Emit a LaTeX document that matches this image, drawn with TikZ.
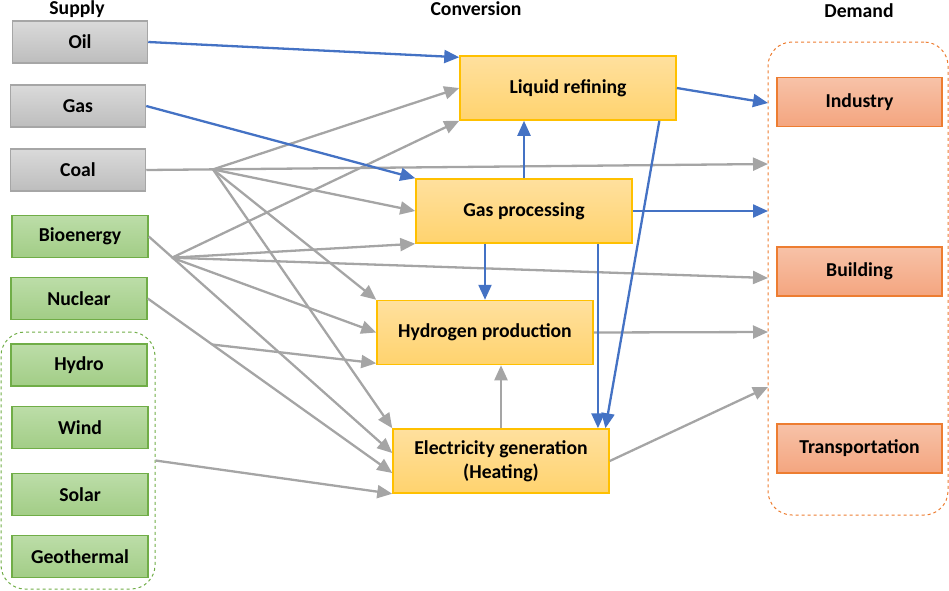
\documentclass[tikz,border=0pt]{standalone}
\usepackage{fontspec}
\setmainfont{Carlito}
\usetikzlibrary{arrows.meta,calc}
\definecolor{fostop}{HTML}{DADADA}
\definecolor{fosbot}{HTML}{BDBDBD}
\definecolor{fosline}{HTML}{A6A6A6}
\definecolor{rentop}{HTML}{BCDDA8}
\definecolor{renbot}{HTML}{A2CD86}
\definecolor{renline}{HTML}{70AD47}
\definecolor{convtop}{HTML}{FFE09E}
\definecolor{convbot}{HTML}{FFD36E}
\definecolor{convline}{HTML}{FFC000}
\definecolor{demtop}{HTML}{F7C2A8}
\definecolor{dembot}{HTML}{F4A57F}
\definecolor{demline}{HTML}{ED7D31}
\definecolor{flowgray}{HTML}{A5A5A5}
\definecolor{flowblue}{HTML}{4472C4}
\begin{document}
\begin{tikzpicture}[x=1pt, y=-1pt,
 >={Triangle[length=15pt,width=13pt]},
 every node/.style={font=\fontsize{19.7}{23.5}\selectfont\bfseries},
 box/.style={draw, line width=1.5pt, inner sep=0pt, align=center},
 fossil/.style={box, minimum width=135pt, minimum height=42pt, draw=fosline, top color=fostop, bottom color=fosbot},
 renew/.style={box, minimum width=136pt, minimum height=42pt, draw=renline, top color=rentop, bottom color=renbot},
 conv/.style={box, minimum width=216pt, minimum height=64pt, draw=convline, top color=convtop, bottom color=convbot},
 dem/.style={box, minimum width=165pt, minimum height=49pt, draw=demline, top color=demtop, bottom color=dembot},
 grp/.style={draw, dashed, line width=1pt, rounded corners=24pt, inner sep=0pt},
 flow/.style={->, line width=2.3pt, color=flowgray},
 fuel/.style={->, line width=2.3pt, color=flowblue}]
 \useasboundingbox (0,0) rectangle (949,590);
 \node[anchor=base] (suplbl) at (77,14) {Supply};
 \node[anchor=base] (convlbl) at (476,15) {Conversion};
 \node[anchor=base] (demlbl) at (859,17) {Demand};
 \node[fossil] (oil) at (80,42) {Oil};
 \node[fossil] (gas) at (78,106) {Gas};
 \node[fossil] (coal) at (78,170) {Coal};
 \node[renew] (bio) at (80,236.5) {Bioenergy};
 \node[renew] (nuc) at (79,298.5) {Nuclear};
 \node[renew] (hydro) at (79,365) {Hydro};
 \node[renew] (wind) at (80,427.5) {Wind};
 \node[renew] (solar) at (80,494.5) {Solar};
 \node[renew] (geo) at (80,556.5) {Geothermal};
 \node[grp, draw=renline, minimum width=154pt, minimum height=257pt] (rengrp) at (78,460.5) {};
 \node[conv] (lr) at (568,88) {Liquid refining};
 \node[conv] (gp) at (524,211) {Gas processing};
 \node[conv] (hp) at (485,332.5) {Hydrogen production};
 \node[conv] (el) at (501,461) {Electricity generation\\(Heating)};
 \node[grp, draw=demline, minimum width=180pt, minimum height=473pt] (demgrp) at (858,278.5) {};
 \node[dem] (ind) at (859.5,102) {Industry};
 \node[dem] (bld) at (859.5,271.5) {Building};
 \node[dem] (trans) at (859.5,448.5) {Transportation};
 \coordinate (coalhub) at (213,169.4);
 \coordinate (biohub) at (172,257.7);
 \coordinate (nuchub) at (212,344.5);
 \coordinate (dlr) at (768,103);
 \coordinate (dcoal) at (768,164);
 \coordinate (dgp) at (768,211);
 \coordinate (dbio) at (768,278);
 \coordinate (dhp) at (768,332);
 \coordinate (del) at (768,387);
 \draw[flow] (coal.east) -- (dcoal);
 \draw[flow] (bio.east) -- ([yshift=8pt]el.west);
 \draw[flow] (nuc.east) -- ([yshift=-12pt]el.west);
 \draw[flow] (rengrp.east) -- (el.south west);
 \foreach \t in {lr.west, gp.west, hp.north west, el.north west}
  \draw[flow] (coalhub) -- (\t);
 \foreach \t in {lr.south west, gp.south west, dbio, hp.west}
  \draw[flow] (biohub) -- (\t);
 \draw[flow] (nuchub) -- ([yshift=2pt]hp.south west);
 \draw[flow] (el.north) -- (el.north |- hp.south);
 \draw[flow] (hp.east) -- (dhp);
 \draw[flow] (el.east) -- (del);
 \draw[fuel] (oil.east) -- ([yshift=-2pt]lr.north west);
 \draw[fuel] (gas.east) -- (gp.north west);
 \draw[fuel] (gp.north) -- (gp.north |- lr.south);
 \draw[fuel] (lr.east) -- (dlr);
 \draw[fuel] (gp.east) -- (dgp);
 \draw[fuel] (hp.north |- gp.south) -- (hp.north);
 \coordinate (gpout) at ($(gp.south west)!0.84!(gp.south east)$);
 \draw[fuel] (gpout) -- (gpout |- el.north);
 \draw[fuel] ($(lr.south west)!0.92!(lr.south east)$) -- ($(el.north west)!0.98!(el.north east)$);
\end{tikzpicture}
\end{document}
